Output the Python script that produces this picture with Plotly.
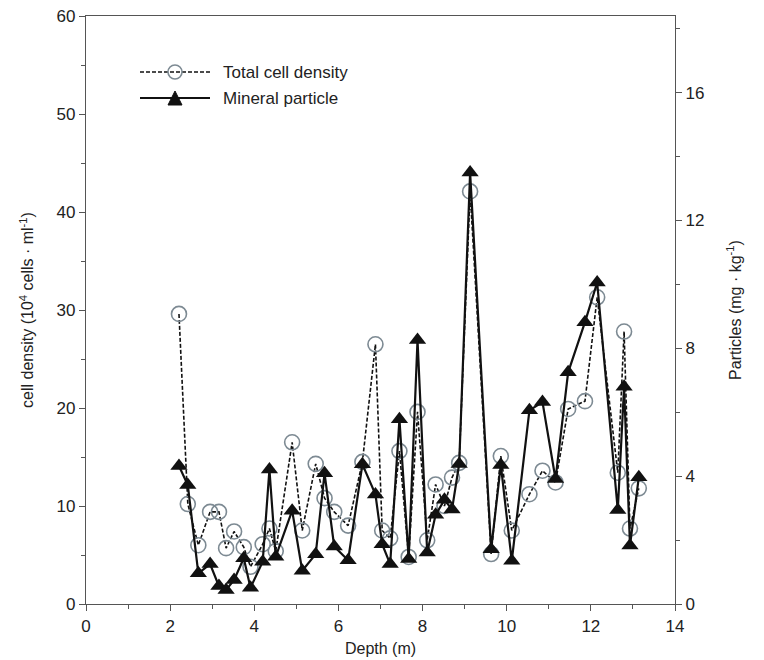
import plotly.graph_objects as go

depth = [2.21, 2.42, 2.67, 2.95, 3.16, 3.33, 3.52, 3.75, 3.91, 4.20, 4.36, 4.51,
         4.90, 5.14, 5.46, 5.67, 5.90, 6.23, 6.57, 6.88, 7.04, 7.23, 7.45, 7.67,
         7.88, 8.11, 8.31, 8.52, 8.70, 8.87, 9.13, 9.63, 9.86, 10.12, 10.54, 10.85,
         11.16, 11.46, 11.86, 12.15, 12.64, 12.79, 12.93, 13.14]

cell_density = [29.6, 10.2, 6.0, 9.4, 9.4, 5.7, 7.4, 5.8, 3.8, 6.1, 7.7, 5.4,
                16.5, 7.5, 14.3, 10.8, 9.4, 8.0, 14.5, 26.5, 7.5, 6.7, 15.6, 4.8,
                19.6, 6.5, 12.2, 10.0, 12.9, 14.4, 42.1, 5.1, 15.1, 7.5, 11.2, 13.6,
                12.4, 19.9, 20.7, 31.3, 13.4, 27.8, 7.7, 11.8]

particles = [4.32, 3.72, 0.96, 1.25, 0.56, 0.44, 0.75, 1.43, 0.51, 1.32, 4.21, 1.48,
             2.92, 1.04, 1.56, 4.09, 1.80, 1.37, 4.37, 3.43, 1.87, 1.25, 5.78, 1.41,
             8.26, 1.61, 2.79, 3.26, 2.96, 4.38, 13.5, 1.71, 4.35, 1.35, 6.06, 6.32,
             3.91, 7.25, 8.82, 10.06, 2.94, 6.80, 1.83, 3.97]

names = ["Total cell density", "Mineral particle"]

FONT = "Liberation Sans, Arial, sans-serif"
AX = "#555555"
TXT = "#222222"
CIRC = "#7d8a93"

fig = go.Figure()
fig.add_trace(go.Scatter(
    x=depth, y=cell_density, name=names[0], mode="lines+markers",
    line=dict(color="#111111", width=1.6, dash="4px,2px"),
    marker=dict(symbol="circle-open", size=15, color=CIRC, line=dict(width=1.6, color=CIRC)),
    showlegend=False))
fig.add_trace(go.Scatter(
    x=depth, y=particles, name=names[1], mode="lines+markers", yaxis="y2",
    line=dict(color="#111111", width=2.2),
    marker=dict(symbol="triangle-up", size=15, color="#111111"),
    showlegend=False))

# plot-area edges as they appear in the screenshot (page has an 8px body margin)
L, R, T, B = 86, 675, 16, 604
OFF = 8
W, H = 764, 660

def px(x):
    return (x - L) / (R - L)

def py(y):
    return (B - y) / (B - T)

shapes = []
annotations = []
shapes.append(dict(type="line", xref="paper", yref="paper", x0=px(140), x1=px(210),
                   y0=py(72), y1=py(72), line=dict(color="#111111", width=1.6, dash="4px,2px")))
shapes.append(dict(type="circle", xref="paper", yref="paper", x0=px(168), x1=px(182),
                   y0=py(65), y1=py(79), line=dict(color=CIRC, width=1.6), fillcolor="rgba(0,0,0,0)"))
shapes.append(dict(type="line", xref="paper", yref="paper", x0=px(140), x1=px(210),
                   y0=py(98), y1=py(98), line=dict(color="#111111", width=2.2)))
tx0, tx1, tyb, tyt = px(168), px(182), py(105), py(91)
shapes.append(dict(type="path", xref="paper", yref="paper",
                   path=f"M {tx0} {tyb} L {tx1} {tyb} L {(tx0+tx1)/2} {tyt} Z",
                   fillcolor="#111111", line=dict(color="#111111", width=1)))
annotations.append(dict(xref="paper", yref="paper", x=px(221), y=py(72), text=names[0],
                        showarrow=False, xanchor="left", yanchor="middle",
                        font=dict(family=FONT, size=17, color=TXT)))
annotations.append(dict(xref="paper", yref="paper", x=px(221), y=py(98), text=names[1],
                        showarrow=False, xanchor="left", yanchor="middle",
                        font=dict(family=FONT, size=17, color=TXT)))

fig.update_layout(
    width=W, height=H,
    margin=dict(l=L - OFF, r=W - R + OFF, t=T - OFF, b=H - B + OFF, autoexpand=False),
    plot_bgcolor="white", paper_bgcolor="white",
    font=dict(family=FONT, size=16, color=TXT),
    showlegend=False,
    shapes=shapes, annotations=annotations,
    xaxis=dict(range=[0, 14], dtick=2, tick0=0, showgrid=False, zeroline=False,
               showline=True, linecolor=AX, linewidth=1.2, mirror=True, automargin=False,
               ticks="outside", ticklen=6, tickcolor=AX, ticklabeloverflow="allow",
               minor=dict(dtick=1, ticks="outside", ticklen=4, tickcolor=AX, showgrid=False),
               title=dict(text="Depth (m)", standoff=8, font=dict(size=16)),
               tickfont=dict(size=17)),
    yaxis=dict(range=[0, 60], dtick=10, showgrid=False, zeroline=False,
               showline=True, linecolor=AX, linewidth=1.2, automargin=False,
               ticks="outside", ticklen=6, tickcolor=AX, ticklabeloverflow="allow",
               minor=dict(dtick=5, ticks="outside", ticklen=4, tickcolor=AX, showgrid=False),
               title=dict(text="cell density (10<sup>4</sup> cells · ml<sup>-1</sup>)", standoff=18,
                          font=dict(size=16)),
               tickfont=dict(size=17)),
    yaxis2=dict(range=[0, 18.4], dtick=4, overlaying="y", side="right", showgrid=False,
                zeroline=False, showline=True, linecolor=AX, linewidth=1.2, automargin=False,
                ticks="outside", ticklen=6, tickcolor=AX, ticklabeloverflow="allow",
                minor=dict(dtick=2, ticks="outside", ticklen=4, tickcolor=AX, showgrid=False),
                title=dict(text="Particles (mg · kg<sup>-1</sup>)", standoff=26, font=dict(size=16)),
                tickfont=dict(size=17)),
)

fig.write_html("out.html")
